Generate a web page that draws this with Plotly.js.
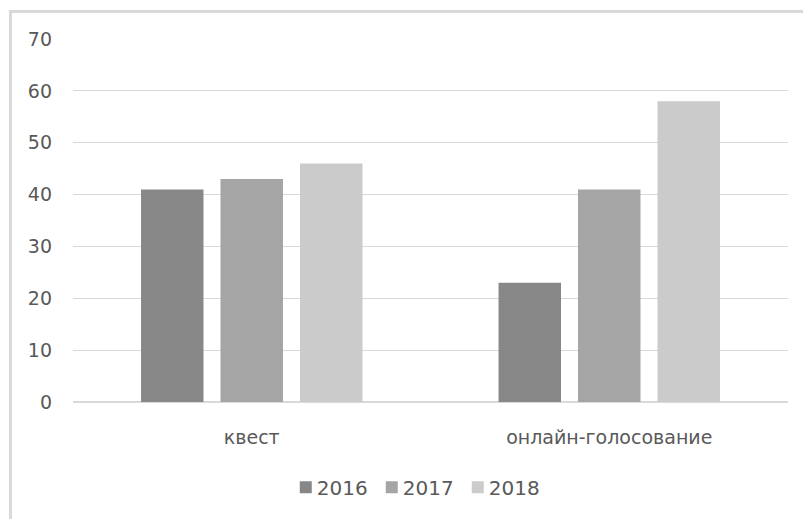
<!DOCTYPE html>
<html>
<head>
<meta charset="utf-8">
<script src="https://cdn.plot.ly/plotly-3.0.1.min.js"></script>
<style>
  html, body { margin: 0; padding: 0; background: #ffffff; }
  #wrap { position: relative; width: 803px; height: 519px; overflow: hidden; }
  #frame {
    position: absolute; left: 9px; top: 10px; width: 820px; height: 530px;
    border-left: 3px solid #d9d9d9; border-top: 3px solid #d9d9d9;
    box-sizing: border-box; pointer-events: none;
  }
  #chart { position: absolute; left: 0; top: 0; width: 803px; height: 519px; }
</style>
</head>
<body>
<div id="wrap">
  <div id="chart"></div>
  <div id="frame"></div>
</div>
<script>
// Categories and yearly values
const categories = ["квест", "онлайн-голосование"];
const years = ["2016", "2017", "2018"];
const values2016 = [41, 23];
const values2017 = [43, 41];
const values2018 = [46, 58];
const yTicks = [0, 10, 20, 30, 40, 50, 60, 70];

const seriesValues = [values2016, values2017, values2018];
const colors = ["#878787", "#a5a5a5", "#cbcbcb"];

const traces = years.map((yr, i) => ({
  type: "bar",
  name: yr,
  x: categories,
  y: seriesValues[i],
  marker: { color: colors[i] },
  hoverinfo: "x+y+name"
}));

const textFont = { family: "DejaVu Sans, sans-serif", size: 19, color: "#595959" };

const layout = {
  width: 803,
  height: 519,
  margin: { l: 73, r: 15, t: 39, b: 117 },
  paper_bgcolor: "#ffffff",
  plot_bgcolor: "#ffffff",
  barmode: "group",
  bargap: 0.333,
  bargroupgap: 0.214,
  showlegend: true,
  legend: {
    orientation: "h",
    x: 0.478, xanchor: "center",
    y: -0.235, yanchor: "middle",
    entrywidth: 41,
    entrywidthmode: "pixels",
    font: { family: "DejaVu Sans, sans-serif", size: 20, color: "#595959" },
    itemclick: false
  },
  xaxis: {
    type: "category",
    showgrid: false,
    zeroline: false,
    showline: false,
    ticks: "",
    ticklabelstandoff: 22,
    tickfont: textFont
  },
  yaxis: {
    range: [0, 70],
    tickvals: yTicks,
    ticktext: yTicks.map(String),
    showgrid: true,
    gridcolor: "#d9d9d9",
    gridwidth: 1,
    zeroline: true,
    zerolinecolor: "#d9d9d9",
    zerolinewidth: 2,
    showline: false,
    ticks: "",
    ticklabelstandoff: 20,
    tickfont: textFont
  }
};

Plotly.newPlot("chart", traces, layout, { displayModeBar: false, staticPlot: true }).then(gd => {
  // Tighten the gap between each legend swatch and its label
  gd.querySelectorAll(".legend .legendtext").forEach(t => {
    t.setAttribute("x", 31);
  });
  // Give the compact legend a little extra room so the last label is not clipped
  document.querySelectorAll("clipPath[id^='legend'] rect").forEach(r => {
    const w = parseFloat(r.getAttribute("width")) || 0;
    r.setAttribute("width", w + 30);
  });
});
</script>
</body>
</html>
